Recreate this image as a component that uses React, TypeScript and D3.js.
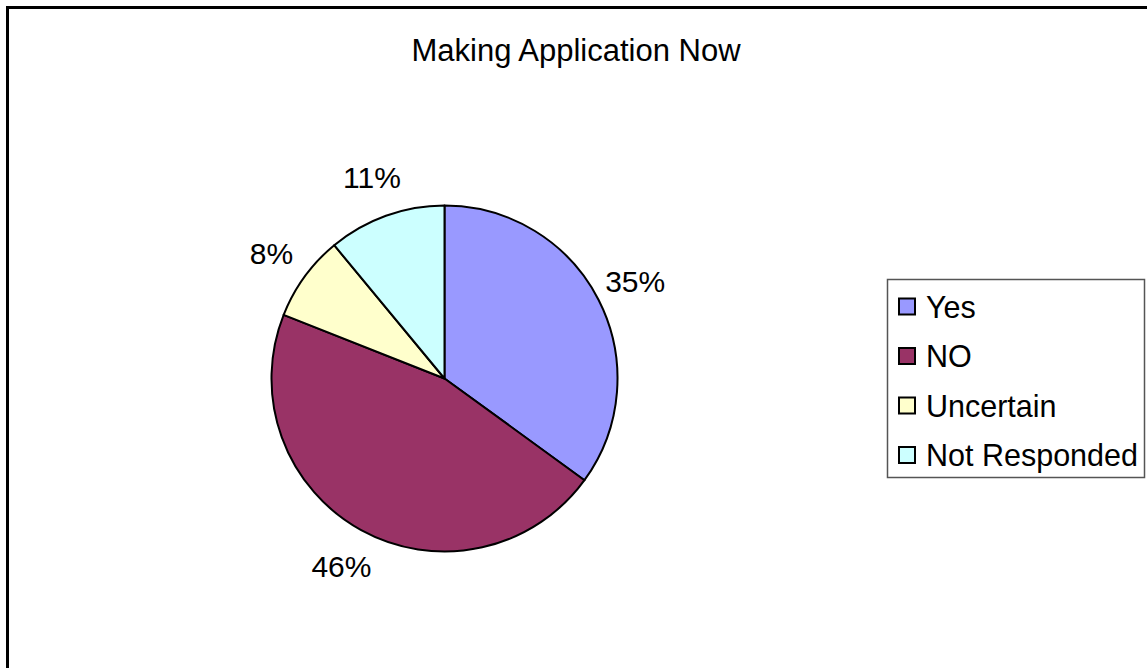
import { useMemo } from 'react';
import * as d3 from 'd3';

const categories = ['Yes', 'NO', 'Uncertain', 'Not Responded'];
const values = [35, 46, 8, 11];
const colors = ['#9999FF', '#993366', '#FFFFCC', '#CCFFFF'];
const title = 'Making Application Now';

const W = 1147;
const H = 668;
const font = "'Liberation Sans', Arial, sans-serif";

export default function App() {
	const cx = 444.5;
	const cy = 378.5;
	const radius = 173;
	const labelR = 214;

	const slices = useMemo(
		() =>
			d3
				.pie<number>()
				.sort(null)
				.startAngle(0)
				.endAngle(2 * Math.PI)(values),
		[]
	);

	const arc = d3.arc<d3.PieArcDatum<number>>().innerRadius(0).outerRadius(radius);
	const labelArc = d3
		.arc<d3.PieArcDatum<number>>()
		.innerRadius(labelR)
		.outerRadius(labelR);

	const total = d3.sum(values);

	const legendX = 887;
	const legendY = 279;
	const legendStep = 49.5;

	return (
		<svg
			width={W}
			height={H}
			style={{ position: 'absolute', left: 0, top: 0, background: '#fff' }}
			fontFamily={font}
		>
			<rect x={7.5} y={7.5} width={W + 20} height={H + 20} fill='#fff' stroke='#000' strokeWidth={3} />

			<text x={576} y={61} textAnchor='middle' fontSize={31} fill='#000'>
				{title}
			</text>

			<g transform={`translate(${cx},${cy})`}>
				{slices.map((s, i) => (
					<path key={categories[i]} d={arc(s) ?? ''} fill={colors[i]} stroke='#000' strokeWidth={2} strokeLinejoin='round' />
				))}
				{slices.map((s, i) => {
					const [x, y] = labelArc.centroid(s);
					return (
						<text key={'l' + i} x={x} y={y} dy='0.36em' textAnchor='middle' fontSize={30} fill='#000'>
							{Math.round((values[i] / total) * 100)}%
						</text>
					);
				})}
			</g>

			<rect x={legendX + 0.5} y={legendY + 0.5} width={257} height={198} fill='#fff' stroke='#555' strokeWidth={1.5} />
			{categories.map((c, i) => {
				const y = legendY + 28 + i * legendStep;
				return (
					<g key={c}>
						<rect x={899} y={y - 8.5} width={16} height={16} fill={colors[i]} stroke='#000' strokeWidth={2} />
						<text x={926} y={y} dy='0.36em' fontSize={30.5} fill='#000'>
							{c}
						</text>
					</g>
				);
			})}
		</svg>
	);
}
